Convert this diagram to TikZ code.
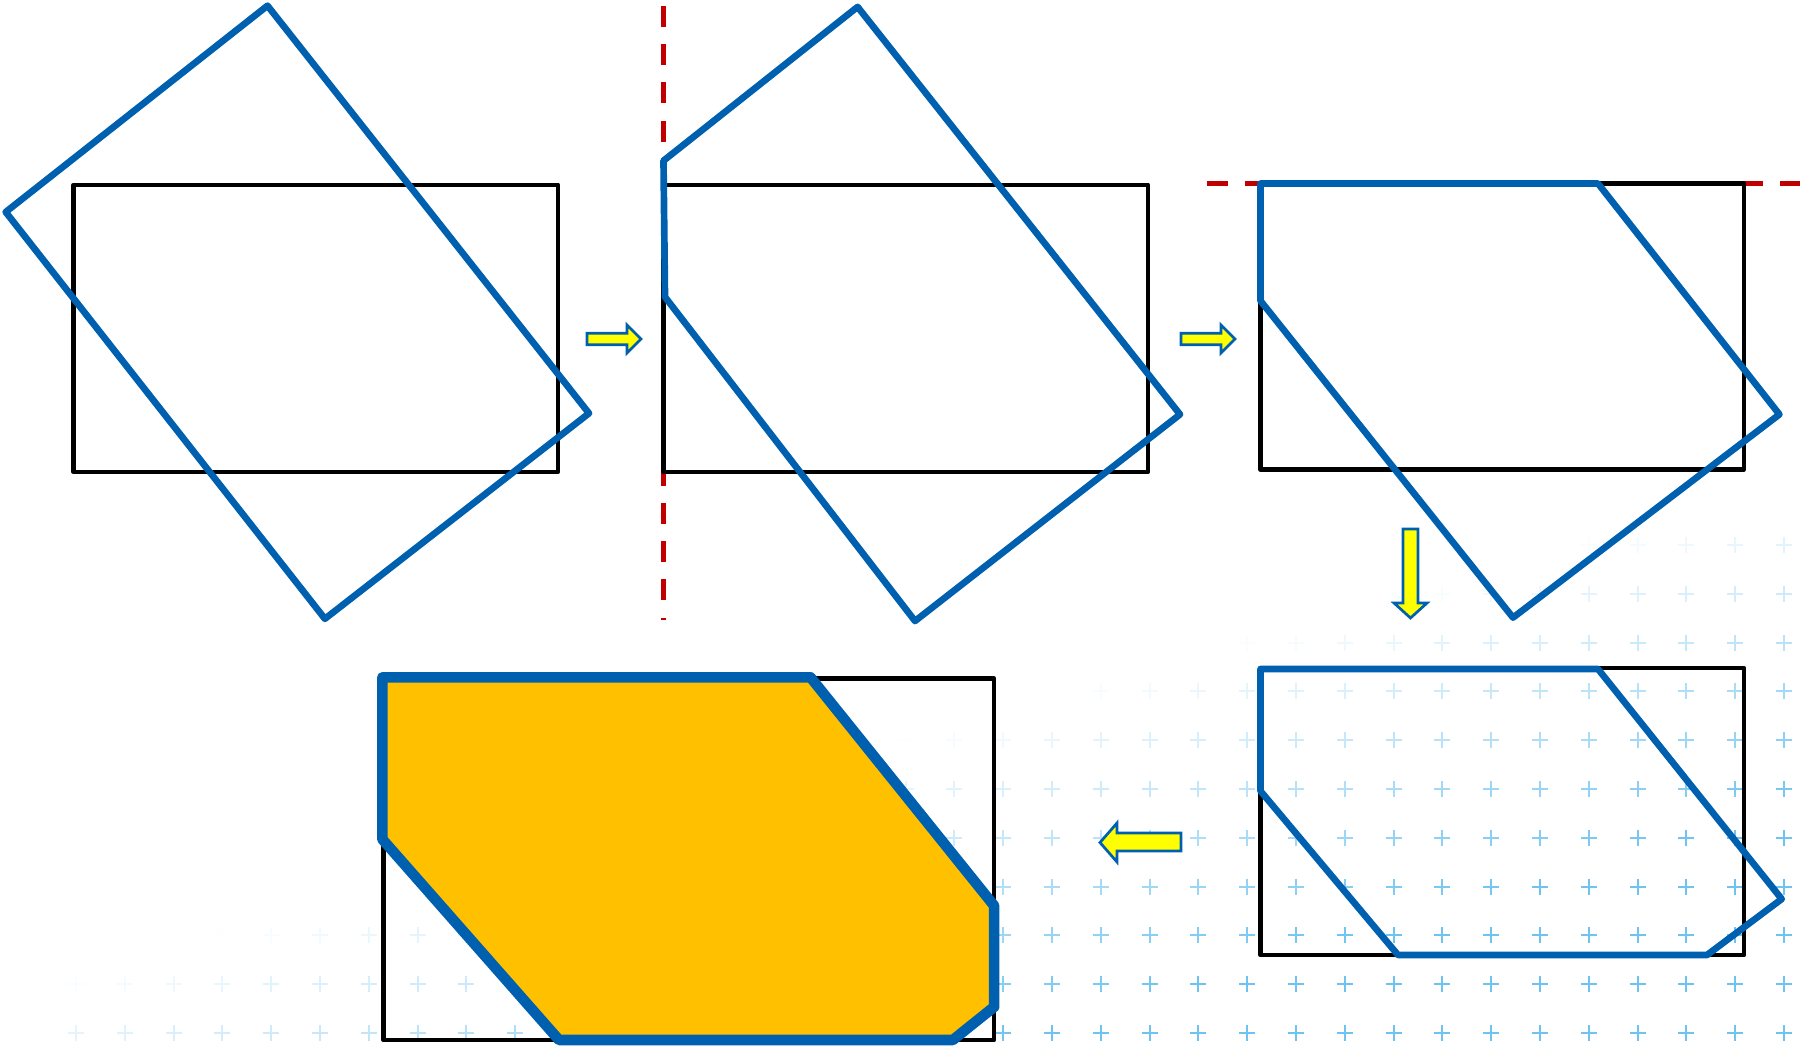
\documentclass[tikz,border=0pt]{standalone}
\usetikzlibrary{calc}
\definecolor{clipblue}{RGB}{0,96,176}
\definecolor{cutred}{RGB}{192,0,0}
\definecolor{resultgold}{RGB}{255,192,0}
\definecolor{stepyellow}{RGB}{255,255,0}
\definecolor{gridblue}{RGB}{110,195,240}
\tikzset{
  window/.style={draw=black, line width=1.28pt, line join=round},
  subject/.style={draw=clipblue, line width=1.9pt, line join=round},
  result/.style={draw=clipblue, line width=3pt, line join=round, fill=resultgold},
  cutline/.style={draw=cutred, line width=1.42pt, dash pattern=on 5.97pt off 4.9pt},
  stepbox/.style={draw=clipblue, line width=0.77pt, fill=stepyellow},
  gridmark/.style={draw=gridblue, line width=0.57pt}
}

\begin{document}
\begin{tikzpicture}[x=0.01cm, y=-0.01cm]
  \useasboundingbox (0,0) rectangle (1800,1048);

  % faded grid of crosses
  \foreach \i in {0,...,35} {
    \foreach \j in {0,...,10} {
      \pgfmathsetmacro{\cx}{1784-48.8*\i}
      \pgfmathsetmacro{\cy}{1033-48.8*\j}
      \pgfmathsetmacro{\fade}{max(0,min(1,(\cx/1800+2*\cy/1048-1.9)/0.65))}
      \ifdim\fade pt>0.01pt
        \draw[gridmark, opacity=\fade] (\cx-8,\cy) -- (\cx+8,\cy) (\cx,\cy-8) -- (\cx,\cy+8);
      \fi
    }
  }

  % Step 1: subject over window
  \draw[window] (73.5,184.8) rectangle (558,471.8);
  \draw[subject] (5.7,212) -- (267.5,5.7) -- (589,413.3) -- (324.9,618.8) -- cycle;

  % Step 2: cut at left edge
  \draw[cutline] (663.5,6) -- (663.5,620);
  \draw[window] (663.5,184.8) rectangle (1148,471.8);
  \draw[subject] (663.5,160.7) -- (857.6,6.9) -- (1180,414.4) -- (915,621) -- (665,297) -- cycle;

  % Step 3: cut at top edge
  \draw[cutline] (1207,183.5) -- (1800,183.5);
  \draw[window] (1260.5,183.5) rectangle (1743.8,469.5);
  \draw[subject] (1260.5,183.5) -- (1598,183.5) -- (1779.4,414.4) -- (1513,617.6) -- (1260.5,300.8) -- cycle;

  % Step 4: cut at bottom edge
  \draw[window] (1260.5,668) rectangle (1744,955);
  \draw[subject] (1260.5,669) -- (1598,669) -- (1781.7,899) -- (1707,955) -- (1398,955) -- (1260.5,791) -- cycle;

  % Result: cut at right edge
  \draw[window] (383.4,678.5) rectangle (994,1040);
  \draw[result] (382.3,677.3) -- (810.5,677.3) -- (994.2,905.8) -- (994.2,1006.8) -- (952.8,1040) -- (559,1040) -- (382.3,839.2) -- cycle;

  % step arrows
  \draw[stepbox] (587,333.3) -- (627,333.3) -- (627,325) -- (641,339) -- (627,353) -- (627,344.7) -- (587,344.7) -- cycle;
  \draw[stepbox] (1181,333.3) -- (1221,333.3) -- (1221,325) -- (1235,339) -- (1221,353) -- (1221,344.7) -- (1181,344.7) -- cycle;
  \draw[stepbox] (1403,529) -- (1418,529) -- (1418,603) -- (1427,603) -- (1410.5,618) -- (1394,603) -- (1403,603) -- cycle;
  \draw[stepbox] (1181,833) -- (1181,851) -- (1117,851) -- (1117,862) -- (1100,842.5) -- (1117,823) -- (1117,833) -- cycle;
\end{tikzpicture}
\end{document}
